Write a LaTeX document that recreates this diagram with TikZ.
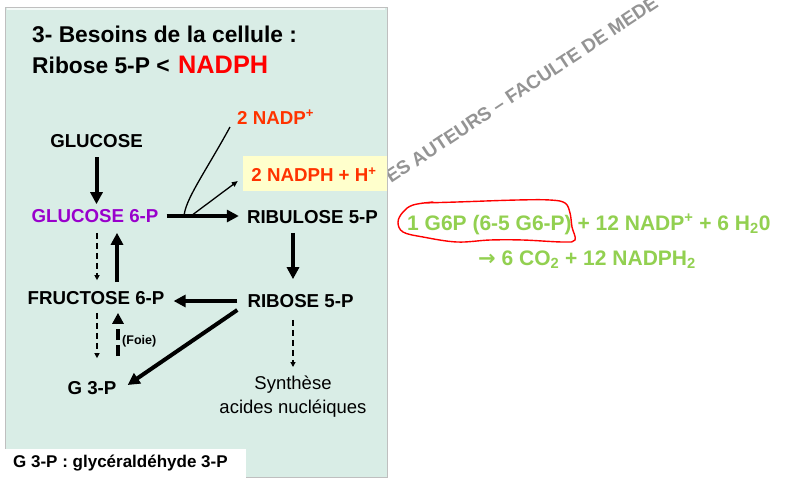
\documentclass[tikz,border=0pt]{standalone}
\usepackage{fontspec}
\setmainfont{Liberation Sans}
\newfontfamily\dejavu{DejaVu Sans}
\usetikzlibrary{arrows.meta,calc}
\definecolor{panelc}{HTML}{D9EDE6}
\definecolor{purp}{HTML}{9900CC}
\definecolor{orred}{HTML}{FF3300}
\definecolor{yel}{HTML}{FFFFCC}
\definecolor{grn}{HTML}{92D050}
\begin{document}
\begin{tikzpicture}[x=1pt,y=-1pt,
  lab/.style={font=\bfseries\fontsize{18.7}{22}\selectfont, inner sep=0pt},
  thk/.style={line width=4pt, -{Triangle[length=12pt,width=12pt]}},
  thindash/.style={line width=1.2pt, dash pattern=on 6pt off 4pt, -{Triangle[length=5pt,width=5pt]}},
  thkdash/.style={line width=4pt, dash pattern=on 11pt off 5pt, -{Triangle[length=11pt,width=11pt]}},
  thin/.style={line width=1.3pt},
  greentxt/.style={text=grn, font=\bfseries\fontsize{21}{25}\selectfont, inner sep=0pt, anchor=base west}
]
\useasboundingbox (0,0) rectangle (787,483);
\clip (0,0) rectangle (787,483);
\fill[white] (0,0) rectangle (787,483);
% watermark
\node[rotate=33.5, anchor=base west, inner sep=0pt, text=black!42,
      font=\bfseries\fontsize{19}{19}\selectfont] (wm) at (391,184) {ES AUTEURS – FACULTE DE MEDE};
% panel
\fill[panelc] (5,7) rectangle (387,477);
\draw[black!25, line width=0.8pt] (5,7) rectangle (387,477);
\draw[white!70!panelc, line width=1.5pt] (7,9) -- (385,9);
% bottom legend box
\fill[white] (0,449) rectangle (246,483);
\node[anchor=west, inner sep=0pt, font=\bfseries\fontsize{17}{20}\selectfont] (legend) at (13,463) {G 3-P : glycéraldéhyde 3-P};
% title
\node[anchor=base west, inner sep=0pt, font=\bfseries\fontsize{22.8}{27}\selectfont] (t1) at (32,42) {3- Besoins de la cellule :};
\node[anchor=base west, inner sep=0pt, font=\bfseries\fontsize{22.8}{27}\selectfont] (t2) at (32,73) {Ribose 5-P <};
\node[anchor=base west, inner sep=0pt, text=red, font=\bfseries\fontsize{25.3}{30}\selectfont] (t3) at (178,73) {NADPH};
% nodes
\node[lab] (glu) at (96.5,141.5) {GLUCOSE};
\node[lab, text=purp] (g6p) at (95,216) {GLUCOSE 6-P};
\node[lab] (ribu) at (312.5,217) {RIBULOSE 5-P};
\node[lab] (rib) at (300.5,301) {RIBOSE 5-P};
\node[lab] (f6p) at (96,298) {FRUCTOSE 6-P};
\node[lab] (g3p) at (92,388) {G 3-P};
\node[inner sep=0pt, align=center, font=\fontsize{18.5}{23.5}\selectfont, anchor=north] (syn) at (293,376) {Synthèse\\acides nucléiques};
\node[lab, text=orred, anchor=base west] (nadp) at (237,124) {2 NADP\textsuperscript{+}};
\node[fill=yel, minimum width=144pt, minimum height=35pt, inner sep=0pt] (nadphbox) at (315,173.5) {};
\node[lab, text=orred] (nadph) at (314,175) {2 NADPH + H\textsuperscript{+}};
\node[inner sep=0pt, font=\bfseries\fontsize{12.5}{15}\selectfont, anchor=west] (foie) at (122,341) {(Foie)};
% connectors
\draw[thk, shorten <=9pt, shorten >=5pt] (glu.south) -- (glu.south |- g6p.north);
\draw[thk, shorten <=8pt, shorten >=8pt] (g6p.east) -- (g6p.east -| ribu.west);
\draw[thk] ($(ribu.south)+(-19.5,9)$) -- ($(ribu.south |- rib.north)+(-19.5,-15)$);
\draw[thk, shorten <=10pt, shorten >=9pt] (rib.west) -- (rib.west -| f6p.east);
\draw[thk] ($(rib.west)+(-10,9)$) -- ($(g3p.east)+(11,-3)$);
\draw[thindash] ($(rib.south)+(-7.5,12)$) -- ($(rib.south |- syn.north)+(-7.5,-9)$);
\draw[thindash] ($(g6p.south)+(2,10)$) -- ($(g6p.south |- f6p.north)+(2,-11)$);
\draw[thk] ($(f6p.north)+(21,-9)$) -- ($(f6p.north |- g6p.south)+(21,10)$);
\draw[thindash] ($(f6p.south)+(1,8)$) -- ($(f6p.south |- g3p.north)+(1,-23)$);
\draw[thkdash] ($(f6p.south |- g3p.north)+(22,-25)$) -- ($(f6p.south)+(22,8)$);
\coordinate (br) at ($(g6p.east)+(25.5,1)$);
\coordinate (brb) at ($(g6p.east)+(31,1)$);
\coordinate (nadpend) at ($(nadp.base west)+(-7,3)$);
\coordinate (nadphend) at ($(nadphbox.west)+(-5,7.5)$);
\draw[thin] (br) .. controls ($(br)+(0,-16)$) and ($(nadpend)+(-24,44)$) .. (nadpend);
\draw[thin, -{Triangle[length=6pt,width=5pt]}] (brb) -- (nadphend);
% right side equation
\node[greentxt] (eq1) at (407,230) {1 G6P (6-5 G6-P) + 12 NADP\textsuperscript{+} + 6 H\textsubscript{2}0};
\node[greentxt] (eq2) at (478,265) {{\dejavu\bfseries →} 6 CO\textsubscript{2} + 12 NADPH\textsubscript{2}};
\draw[red, line width=1.4pt, line cap=round] plot[smooth, tension=0.6] coordinates {
 (422,203) (457,202) (517,200) (550,200) (565,203) (570,213) (572,227) (575,240)
 (563,242) (523,240) (490,240) (457,242) (423,237) (403,232) (398,222) (403,212) (413,205) (433,202)};
\end{tikzpicture}
\end{document}
